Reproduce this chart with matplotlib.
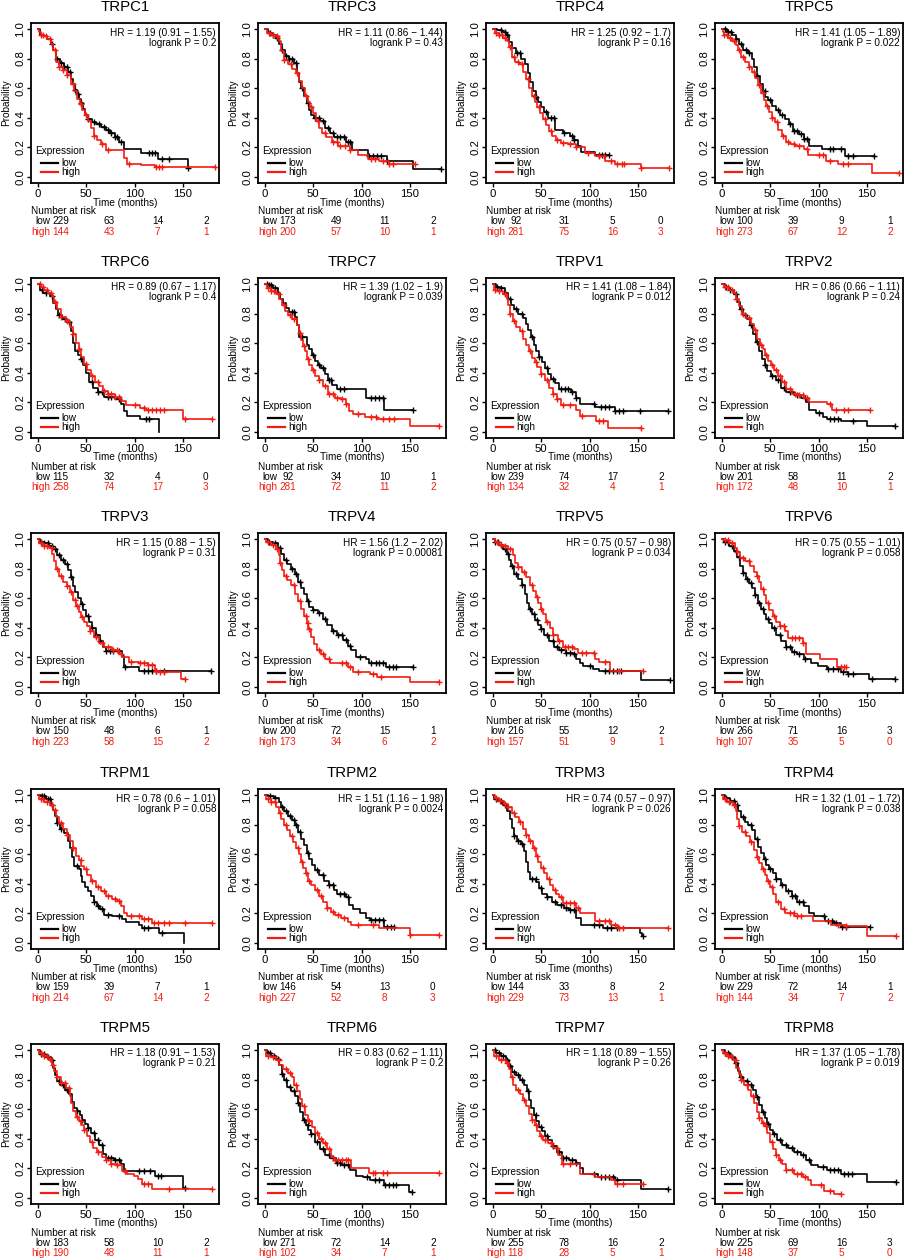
import numpy as np
import matplotlib
matplotlib.use('Agg')
import matplotlib.pyplot as plt

plt.rcParams['font.family'] = ['Liberation Sans', 'DejaVu Sans']

GENES = ['TRPC1', 'TRPC3', 'TRPC4', 'TRPC5',
         'TRPC6', 'TRPC7', 'TRPV1', 'TRPV2',
         'TRPV3', 'TRPV4', 'TRPV5', 'TRPV6',
         'TRPM1', 'TRPM2', 'TRPM3', 'TRPM4',
         'TRPM5', 'TRPM6', 'TRPM7', 'TRPM8']
HR = ['1.19 (0.91 \u2212 1.55)', '1.11 (0.86 \u2212 1.44)', '1.25 (0.92 \u2212 1.7)', '1.41 (1.05 \u2212 1.89)',
      '0.89 (0.67 \u2212 1.17)', '1.39 (1.02 \u2212 1.9)', '1.41 (1.08 \u2212 1.84)', '0.86 (0.66 \u2212 1.11)',
      '1.15 (0.88 \u2212 1.5)', '1.56 (1.2 \u2212 2.02)', '0.75 (0.57 \u2212 0.98)', '0.75 (0.55 \u2212 1.01)',
      '0.78 (0.6 \u2212 1.01)', '1.51 (1.16 \u2212 1.98)', '0.74 (0.57 \u2212 0.97)', '1.32 (1.01 \u2212 1.72)',
      '1.18 (0.91 \u2212 1.53)', '0.83 (0.62 \u2212 1.11)', '1.18 (0.89 \u2212 1.55)', '1.37 (1.05 \u2212 1.78)']
P = ['0.2', '0.43', '0.16', '0.022',
     '0.4', '0.039', '0.012', '0.24',
     '0.31', '0.00081', '0.034', '0.058',
     '0.058', '0.0024', '0.026', '0.038',
     '0.21', '0.2', '0.26', '0.019']
RISK_TIMES = [0, 50, 100, 150]
RISK_LOW = [[229, 63, 14, 2], [173, 49, 11, 2], [92, 31, 5, 0], [100, 39, 9, 1],
            [115, 32, 4, 0], [92, 34, 10, 1], [239, 74, 17, 2], [201, 58, 11, 2],
            [150, 48, 6, 1], [200, 72, 15, 1], [216, 55, 12, 2], [266, 71, 16, 3],
            [159, 39, 7, 1], [146, 54, 13, 0], [144, 33, 8, 2], [229, 72, 14, 1],
            [183, 58, 10, 2], [271, 72, 14, 2], [255, 78, 16, 2], [225, 69, 16, 3]]
RISK_HIGH = [[144, 43, 7, 1], [200, 57, 10, 1], [281, 75, 16, 3], [273, 67, 12, 2],
             [258, 74, 17, 3], [281, 72, 11, 2], [134, 32, 4, 1], [172, 48, 10, 1],
             [223, 58, 15, 2], [173, 34, 6, 2], [157, 51, 9, 1], [107, 35, 5, 0],
             [214, 67, 14, 2], [227, 52, 8, 3], [229, 73, 13, 1], [144, 34, 7, 2],
             [190, 48, 11, 1], [102, 34, 7, 1], [118, 28, 5, 1], [148, 37, 5, 0]]

# survival curves: step times (_t), survival after each step (_s), censor times (_c), last follow-up (_end)
trpc1_low_t = [0, 2, 5, 9, 13, 16, 19, 23, 27, 31, 34, 36, 38, 40, 42, 44, 47, 49, 52, 56, 60, 65, 70, 75, 80, 84, 89, 107, 124, 155]
trpc1_low_s = [1.0, 0.96, 0.95, 0.93, 0.90, 0.86, 0.80, 0.77, 0.74, 0.71, 0.66, 0.63, 0.59, 0.56, 0.53, 0.50, 0.46, 0.42, 0.39, 0.37, 0.36, 0.34, 0.32, 0.30, 0.27, 0.24, 0.19, 0.16, 0.12, 0.06]
trpc1_low_c = [14, 20, 24, 27, 30, 33, 38, 41, 45, 52, 58, 63, 68, 72, 76, 80, 82, 86, 115, 118, 121, 128, 136, 155]
trpc1_low_end = 156
trpc1_high_t = [0, 1, 3, 6, 9, 13, 16, 19, 22, 26, 30, 34, 37, 40, 43, 46, 49, 52, 55, 58, 61, 65, 70, 89, 92, 107, 121]
trpc1_high_s = [1.0, 0.98, 0.96, 0.95, 0.93, 0.90, 0.86, 0.78, 0.74, 0.72, 0.69, 0.63, 0.58, 0.53, 0.49, 0.45, 0.42, 0.38, 0.33, 0.28, 0.25, 0.22, 0.18, 0.13, 0.09, 0.08, 0.065]
trpc1_high_c = [3, 5, 8, 12, 18, 22, 26, 30, 36, 44, 50, 58, 66, 72, 94, 122, 125, 128, 183]
trpc1_high_end = 183

trpc3_low_t = [0, 3, 7, 11, 15, 18, 21, 25, 30, 33, 35, 37, 40, 43, 46, 48, 51, 57, 62, 67, 71, 84, 90, 107, 126, 153]
trpc3_low_s = [1.0, 0.97, 0.96, 0.94, 0.90, 0.86, 0.82, 0.80, 0.77, 0.70, 0.64, 0.60, 0.55, 0.50, 0.45, 0.42, 0.40, 0.38, 0.33, 0.30, 0.27, 0.24, 0.18, 0.14, 0.11, 0.055]
trpc3_low_c = [5, 8, 12, 18, 22, 25, 28, 32, 38, 44, 52, 56, 60, 65, 70, 74, 78, 82, 86, 88, 108, 112, 116, 120, 126, 182]
trpc3_low_end = 182
trpc3_high_t = [0, 2, 6, 10, 14, 17, 20, 24, 28, 32, 35, 38, 41, 44, 47, 50, 53, 56, 59, 63, 69, 76, 88, 96, 107, 118, 128]
trpc3_high_s = [1.0, 0.97, 0.96, 0.95, 0.92, 0.85, 0.79, 0.76, 0.73, 0.70, 0.65, 0.60, 0.55, 0.51, 0.47, 0.43, 0.38, 0.33, 0.30, 0.27, 0.24, 0.21, 0.18, 0.15, 0.12, 0.11, 0.09]
trpc3_high_c = [4, 8, 12, 20, 27, 33, 42, 48, 55, 62, 70, 74, 78, 83, 88, 110, 114, 122, 128, 132, 155]
trpc3_high_end = 155

trpc4_low_t = [0, 4, 9, 13, 17, 20, 24, 29, 33, 36, 38, 41, 44, 47, 50, 53, 57, 64, 72, 80, 84, 88, 91, 105]
trpc4_low_s = [1.0, 0.99, 0.98, 0.96, 0.91, 0.87, 0.84, 0.80, 0.76, 0.70, 0.64, 0.58, 0.54, 0.51, 0.47, 0.44, 0.40, 0.32, 0.30, 0.28, 0.25, 0.21, 0.17, 0.15]
trpc4_low_c = [8, 12, 14, 25, 28, 45, 55, 60, 63, 73, 82, 84, 110, 113, 116, 120]
trpc4_low_end = 120
trpc4_high_t = [0, 2, 6, 10, 14, 17, 20, 23, 27, 31, 34, 37, 40, 43, 46, 49, 52, 55, 58, 61, 65, 70, 78, 86, 95, 105, 116, 126, 153]
trpc4_high_s = [1.0, 0.97, 0.96, 0.94, 0.92, 0.88, 0.81, 0.78, 0.76, 0.71, 0.66, 0.60, 0.55, 0.51, 0.47, 0.43, 0.39, 0.35, 0.31, 0.28, 0.25, 0.23, 0.22, 0.20, 0.16, 0.14, 0.11, 0.09, 0.06]
trpc4_high_c = [3, 6, 9, 12, 18, 22, 26, 30, 36, 42, 48, 54, 60, 66, 72, 80, 86, 98, 110, 115, 122, 128, 133, 136, 153, 182]
trpc4_high_end = 182

trpc5_low_t = [0, 5, 10, 14, 18, 22, 27, 31, 33, 36, 39, 42, 45, 48, 52, 56, 60, 65, 69, 73, 80, 85, 90, 103, 127]
trpc5_low_s = [1.0, 0.98, 0.96, 0.93, 0.90, 0.86, 0.84, 0.80, 0.74, 0.68, 0.63, 0.58, 0.54, 0.52, 0.48, 0.45, 0.42, 0.39, 0.36, 0.31, 0.29, 0.26, 0.21, 0.19, 0.14]
trpc5_low_c = [3, 6, 9, 14, 20, 25, 28, 36, 44, 50, 58, 62, 70, 75, 78, 82, 85, 88, 112, 115, 123, 130, 136, 157]
trpc5_low_end = 157
trpc5_high_t = [0, 1, 2, 6, 10, 14, 17, 20, 24, 28, 31, 34, 37, 40, 43, 46, 49, 52, 55, 58, 62, 66, 70, 76, 85, 89, 108, 120, 155]
trpc5_high_s = [1.0, 0.98, 0.96, 0.94, 0.92, 0.89, 0.86, 0.81, 0.78, 0.74, 0.71, 0.67, 0.62, 0.57, 0.52, 0.48, 0.44, 0.40, 0.37, 0.32, 0.28, 0.24, 0.22, 0.21, 0.19, 0.15, 0.11, 0.09, 0.03]
trpc5_high_c = [2, 5, 8, 12, 18, 22, 28, 33, 38, 42, 47, 52, 57, 63, 68, 74, 80, 88, 100, 104, 112, 125, 130, 183]
trpc5_high_end = 183

trpc6_low_t = [0, 2, 5, 12, 16, 19, 21, 25, 30, 34, 36, 38, 41, 44, 47, 50, 53, 57, 62, 68, 80, 86, 89, 92, 106, 125]
trpc6_low_s = [1.0, 0.96, 0.94, 0.92, 0.87, 0.83, 0.79, 0.76, 0.74, 0.68, 0.60, 0.55, 0.52, 0.49, 0.45, 0.40, 0.34, 0.30, 0.27, 0.24, 0.22, 0.19, 0.14, 0.11, 0.085, 0.0]
trpc6_low_c = [4, 8, 15, 22, 28, 32, 45, 56, 62, 66, 72, 76, 84, 112, 115]
trpc6_low_end = 125.5
trpc6_high_t = [0, 3, 6, 10, 14, 17, 20, 24, 29, 33, 36, 39, 42, 45, 48, 51, 55, 59, 63, 67, 72, 80, 86, 91, 105, 112, 150]
trpc6_high_s = [1.0, 0.98, 0.96, 0.94, 0.91, 0.88, 0.83, 0.78, 0.75, 0.71, 0.66, 0.60, 0.56, 0.51, 0.46, 0.42, 0.38, 0.34, 0.31, 0.28, 0.26, 0.24, 0.21, 0.18, 0.16, 0.15, 0.085]
trpc6_high_c = [2, 5, 9, 13, 18, 24, 30, 36, 42, 50, 56, 62, 68, 72, 76, 80, 84, 100, 110, 114, 118, 122, 126, 130, 152, 180]
trpc6_high_end = 180

trpc7_low_t = [0, 3, 8, 13, 16, 19, 22, 25, 31, 33, 35, 43, 46, 49, 52, 55, 58, 62, 65, 69, 74, 104, 123]
trpc7_low_s = [1.0, 0.99, 0.97, 0.94, 0.90, 0.87, 0.84, 0.81, 0.78, 0.72, 0.64, 0.59, 0.56, 0.52, 0.48, 0.45, 0.43, 0.39, 0.35, 0.32, 0.29, 0.23, 0.15]
trpc7_low_c = [2, 4, 6, 10, 28, 30, 38, 50, 56, 60, 66, 68, 78, 82, 110, 114, 118, 122, 153]
trpc7_low_end = 153
trpc7_high_t = [0, 2, 6, 11, 15, 18, 21, 24, 28, 33, 35, 37, 39, 41, 43, 46, 49, 52, 56, 60, 65, 72, 79, 84, 87, 91, 103, 116, 150]
trpc7_high_s = [1.0, 0.97, 0.95, 0.93, 0.90, 0.86, 0.82, 0.79, 0.76, 0.72, 0.67, 0.62, 0.58, 0.55, 0.49, 0.45, 0.42, 0.38, 0.35, 0.31, 0.26, 0.23, 0.22, 0.19, 0.14, 0.12, 0.10, 0.085, 0.04]
trpc7_high_c = [3, 6, 9, 14, 20, 26, 30, 36, 40, 45, 50, 56, 62, 66, 70, 75, 80, 84, 96, 110, 115, 122, 128, 133, 180]
trpc7_high_end = 180

trpv1_low_t = [0, 3, 7, 12, 16, 19, 22, 26, 31, 34, 36, 39, 42, 45, 48, 51, 54, 57, 60, 64, 68, 81, 86, 90, 105, 126]
trpv1_low_s = [1.0, 0.98, 0.97, 0.94, 0.90, 0.86, 0.83, 0.80, 0.77, 0.73, 0.69, 0.64, 0.59, 0.55, 0.51, 0.47, 0.43, 0.39, 0.36, 0.33, 0.29, 0.27, 0.23, 0.19, 0.17, 0.14]
trpv1_low_c = [4, 8, 12, 18, 24, 30, 40, 48, 56, 62, 70, 74, 78, 82, 86, 104, 112, 116, 120, 126, 130, 134, 152, 181]
trpv1_low_end = 181
trpv1_high_t = [0, 1, 5, 10, 14, 16, 18, 21, 24, 28, 31, 34, 37, 40, 43, 46, 50, 54, 58, 62, 66, 70, 86, 90, 107, 119]
trpv1_high_s = [1.0, 0.96, 0.95, 0.93, 0.90, 0.86, 0.80, 0.75, 0.71, 0.68, 0.63, 0.59, 0.55, 0.50, 0.47, 0.44, 0.39, 0.35, 0.30, 0.26, 0.22, 0.18, 0.15, 0.11, 0.075, 0.03]
trpv1_high_c = [2, 6, 12, 18, 22, 30, 38, 44, 50, 56, 62, 66, 72, 80, 92, 110, 114, 153]
trpv1_high_end = 153

trpv2_low_t = [0, 3, 7, 12, 16, 19, 22, 26, 29, 32, 35, 38, 41, 44, 47, 51, 56, 61, 66, 75, 82, 87, 90, 97, 104, 109, 123, 150]
trpv2_low_s = [1.0, 0.98, 0.96, 0.93, 0.88, 0.83, 0.79, 0.76, 0.72, 0.66, 0.61, 0.55, 0.49, 0.45, 0.41, 0.38, 0.35, 0.30, 0.27, 0.25, 0.23, 0.20, 0.15, 0.13, 0.10, 0.085, 0.075, 0.04]
trpv2_low_c = [4, 8, 14, 20, 24, 30, 36, 44, 52, 58, 64, 70, 78, 86, 100, 112, 116, 120, 136, 179]
trpv2_low_end = 179
trpv2_high_t = [0, 2, 7, 12, 15, 18, 21, 25, 30, 33, 36, 39, 42, 45, 48, 51, 54, 58, 62, 66, 72, 80, 85, 90, 109, 114]
trpv2_high_s = [1.0, 0.98, 0.96, 0.94, 0.90, 0.85, 0.80, 0.77, 0.73, 0.69, 0.63, 0.59, 0.56, 0.52, 0.48, 0.45, 0.42, 0.38, 0.34, 0.29, 0.26, 0.25, 0.23, 0.20, 0.19, 0.15]
trpv2_high_c = [3, 6, 10, 15, 22, 28, 34, 40, 46, 52, 56, 60, 64, 70, 76, 80, 84, 88, 112, 118, 126, 130, 153]
trpv2_high_end = 153

trpv3_low_t = [0, 2, 6, 11, 16, 20, 24, 28, 31, 34, 36, 38, 41, 44, 47, 50, 53, 56, 60, 64, 67, 70, 87, 89, 104]
trpv3_low_s = [1.0, 0.98, 0.97, 0.95, 0.93, 0.89, 0.86, 0.83, 0.79, 0.74, 0.68, 0.64, 0.60, 0.56, 0.52, 0.48, 0.44, 0.40, 0.35, 0.31, 0.27, 0.245, 0.21, 0.135, 0.11]
trpv3_low_c = [3, 6, 10, 14, 18, 22, 26, 30, 34, 46, 52, 56, 60, 64, 70, 74, 78, 84, 90, 110, 114, 118, 122, 130, 179]
trpv3_low_end = 179
trpv3_high_t = [0, 1, 5, 11, 15, 17, 19, 22, 26, 30, 33, 36, 39, 42, 45, 48, 51, 54, 58, 63, 68, 77, 84, 87, 94, 104, 114, 121, 125, 148]
trpv3_high_s = [1.0, 0.97, 0.95, 0.94, 0.90, 0.85, 0.80, 0.75, 0.71, 0.68, 0.64, 0.59, 0.55, 0.51, 0.47, 0.44, 0.41, 0.38, 0.34, 0.30, 0.27, 0.25, 0.225, 0.20, 0.17, 0.16, 0.15, 0.11, 0.10, 0.055]
trpv3_high_c = [3, 6, 9, 14, 20, 24, 30, 34, 38, 40, 46, 54, 60, 66, 72, 78, 82, 86, 96, 106, 110, 114, 118, 122, 126, 130, 152]
trpv3_high_end = 152

trpv4_low_t = [0, 3, 8, 13, 17, 20, 23, 27, 31, 34, 37, 40, 43, 46, 50, 55, 60, 64, 69, 74, 81, 86, 89, 94, 104, 108, 125]
trpv4_low_s = [1.0, 0.98, 0.97, 0.94, 0.90, 0.86, 0.83, 0.80, 0.76, 0.71, 0.67, 0.63, 0.58, 0.54, 0.52, 0.50, 0.46, 0.42, 0.38, 0.35, 0.32, 0.28, 0.25, 0.20, 0.19, 0.16, 0.135]
trpv4_low_c = [4, 10, 16, 22, 28, 32, 36, 44, 50, 56, 62, 70, 76, 80, 84, 88, 98, 110, 115, 118, 122, 128, 132, 136, 153]
trpv4_low_end = 153
trpv4_high_t = [0, 1, 6, 11, 14, 16, 18, 20, 23, 27, 31, 34, 37, 40, 43, 45, 48, 51, 54, 58, 62, 67, 86, 91, 109, 116, 150]
trpv4_high_s = [1.0, 0.98, 0.96, 0.93, 0.89, 0.84, 0.79, 0.75, 0.72, 0.69, 0.63, 0.58, 0.53, 0.48, 0.43, 0.39, 0.34, 0.29, 0.25, 0.22, 0.19, 0.16, 0.135, 0.10, 0.09, 0.07, 0.035]
trpv4_high_c = [3, 8, 12, 16, 22, 30, 36, 42, 44, 46, 56, 60, 66, 80, 84, 88, 96, 112, 120, 180]
trpv4_high_end = 180

trpv5_low_t = [0, 2, 6, 10, 14, 17, 19, 22, 26, 30, 33, 35, 37, 40, 43, 47, 50, 53, 58, 63, 68, 76, 83, 86, 90, 93, 103, 110, 153]
trpv5_low_s = [1.0, 0.98, 0.96, 0.93, 0.90, 0.86, 0.82, 0.76, 0.73, 0.69, 0.63, 0.57, 0.53, 0.49, 0.45, 0.42, 0.39, 0.35, 0.31, 0.27, 0.25, 0.23, 0.22, 0.19, 0.16, 0.14, 0.125, 0.11, 0.045]
trpv5_low_c = [2, 5, 8, 12, 16, 20, 24, 30, 38, 42, 46, 50, 56, 62, 66, 70, 76, 80, 84, 100, 116, 120, 124, 128, 132, 183]
trpv5_low_end = 183
trpv5_high_t = [0, 2, 6, 11, 16, 21, 23, 26, 30, 34, 38, 41, 45, 47, 50, 52, 55, 59, 62, 67, 72, 84, 88, 105, 110, 121]
trpv5_high_s = [1.0, 0.98, 0.96, 0.95, 0.93, 0.89, 0.84, 0.81, 0.78, 0.74, 0.69, 0.65, 0.61, 0.57, 0.53, 0.49, 0.44, 0.40, 0.35, 0.31, 0.27, 0.26, 0.23, 0.19, 0.17, 0.11]
trpv5_high_c = [4, 8, 12, 18, 26, 32, 40, 46, 50, 56, 62, 68, 74, 78, 82, 92, 96, 104, 116, 130, 155]
trpv5_high_end = 155

trpv6_low_t = [0, 2, 7, 12, 16, 19, 22, 25, 28, 31, 34, 37, 40, 43, 46, 49, 52, 56, 61, 66, 72, 78, 85, 92, 99, 109, 123, 130, 152]
trpv6_low_s = [1.0, 0.98, 0.95, 0.92, 0.88, 0.82, 0.77, 0.73, 0.70, 0.67, 0.62, 0.57, 0.53, 0.49, 0.46, 0.43, 0.40, 0.35, 0.31, 0.27, 0.24, 0.22, 0.19, 0.16, 0.14, 0.125, 0.10, 0.09, 0.057]
trpv6_low_c = [3, 6, 10, 14, 18, 22, 26, 30, 34, 38, 42, 48, 54, 60, 66, 70, 74, 80, 86, 110, 115, 120, 125, 130, 135, 155, 179]
trpv6_low_end = 179
trpv6_high_t = [0, 2, 7, 13, 16, 19, 24, 29, 33, 36, 38, 40, 43, 46, 49, 53, 56, 60, 65, 68, 84, 87, 101, 119]
trpv6_high_s = [1.0, 0.99, 0.97, 0.94, 0.91, 0.87, 0.85, 0.82, 0.78, 0.75, 0.71, 0.66, 0.62, 0.57, 0.52, 0.48, 0.44, 0.41, 0.38, 0.33, 0.30, 0.22, 0.19, 0.135]
trpv6_high_c = [3, 6, 10, 16, 22, 28, 36, 42, 48, 54, 60, 64, 72, 76, 80, 84, 123, 126, 128]
trpv6_high_end = 128

trpm1_low_t = [0, 3, 8, 13, 16, 18, 20, 23, 27, 31, 33, 35, 37, 42, 44, 46, 49, 52, 55, 58, 61, 64, 68, 77, 87, 91, 104, 108, 125, 151]
trpm1_low_s = [1.0, 0.99, 0.97, 0.93, 0.90, 0.86, 0.81, 0.77, 0.74, 0.69, 0.64, 0.58, 0.52, 0.50, 0.45, 0.41, 0.38, 0.35, 0.32, 0.28, 0.25, 0.23, 0.19, 0.18, 0.16, 0.14, 0.125, 0.10, 0.07, 0.0]
trpm1_low_c = [4, 6, 10, 12, 14, 20, 24, 40, 58, 62, 66, 72, 84, 110, 114, 128]
trpm1_low_end = 151.5
trpm1_high_t = [0, 1, 6, 12, 16, 19, 22, 26, 30, 33, 36, 39, 42, 45, 48, 51, 55, 60, 65, 70, 77, 82, 86, 89, 92, 108, 118]
trpm1_high_s = [1.0, 0.97, 0.95, 0.93, 0.90, 0.85, 0.81, 0.77, 0.73, 0.69, 0.64, 0.59, 0.56, 0.52, 0.50, 0.46, 0.42, 0.38, 0.35, 0.32, 0.30, 0.285, 0.25, 0.20, 0.18, 0.16, 0.135]
trpm1_high_c = [3, 5, 9, 14, 18, 24, 30, 36, 44, 50, 56, 62, 68, 72, 80, 84, 96, 104, 110, 114, 120, 124, 130, 136, 152, 180]
trpm1_high_end = 180

trpm2_low_t = [0, 3, 9, 14, 17, 20, 24, 28, 31, 34, 37, 40, 43, 46, 49, 52, 56, 61, 66, 71, 75, 84, 87, 91, 98, 104, 109, 123]
trpm2_low_s = [1.0, 0.99, 0.98, 0.95, 0.92, 0.89, 0.86, 0.83, 0.80, 0.75, 0.70, 0.66, 0.61, 0.57, 0.53, 0.49, 0.46, 0.42, 0.39, 0.36, 0.33, 0.31, 0.26, 0.23, 0.20, 0.17, 0.155, 0.11]
trpm2_low_c = [5, 10, 18, 22, 26, 30, 32, 36, 44, 54, 60, 66, 70, 78, 82, 86, 110, 114, 118, 122, 126, 130, 133]
trpm2_low_end = 133
trpm2_high_t = [0, 1, 6, 11, 14, 17, 20, 23, 26, 29, 32, 35, 37, 39, 42, 45, 48, 52, 56, 60, 64, 68, 72, 79, 86, 89, 118, 150]
trpm2_high_s = [1.0, 0.97, 0.95, 0.92, 0.88, 0.84, 0.80, 0.76, 0.72, 0.68, 0.64, 0.60, 0.55, 0.51, 0.47, 0.42, 0.39, 0.36, 0.32, 0.28, 0.24, 0.21, 0.19, 0.17, 0.14, 0.12, 0.10, 0.057]
trpm2_high_c = [3, 6, 10, 16, 22, 28, 34, 38, 42, 46, 54, 58, 64, 70, 76, 82, 96, 112, 150, 180]
trpm2_high_end = 180

trpm3_low_t = [0, 1, 5, 10, 15, 18, 20, 22, 25, 29, 32, 34, 36, 38, 45, 48, 51, 56, 61, 66, 73, 79, 86, 91, 114, 152, 154]
trpm3_low_s = [1.0, 0.97, 0.96, 0.93, 0.89, 0.84, 0.78, 0.72, 0.69, 0.67, 0.62, 0.55, 0.48, 0.43, 0.41, 0.37, 0.33, 0.31, 0.28, 0.26, 0.24, 0.22, 0.17, 0.12, 0.10, 0.07, 0.05]
trpm3_low_c = [3, 8, 12, 22, 26, 30, 40, 44, 50, 56, 64, 70, 76, 80, 84, 104, 110, 118, 122, 128, 155]
trpm3_low_end = 155
trpm3_high_t = [0, 2, 6, 11, 16, 20, 23, 27, 31, 34, 37, 41, 44, 47, 50, 53, 56, 59, 62, 65, 68, 72, 86, 90, 105, 122, 129]
trpm3_high_s = [1.0, 0.98, 0.96, 0.94, 0.92, 0.88, 0.85, 0.82, 0.77, 0.73, 0.69, 0.64, 0.59, 0.55, 0.51, 0.47, 0.43, 0.39, 0.36, 0.33, 0.31, 0.27, 0.24, 0.20, 0.15, 0.125, 0.10]
trpm3_high_c = [3, 7, 12, 16, 22, 28, 34, 38, 42, 46, 52, 58, 64, 70, 76, 80, 84, 88, 110, 116, 120, 126, 130, 134, 181]
trpm3_high_end = 181

trpm4_low_t = [0, 3, 8, 13, 17, 20, 24, 27, 31, 34, 37, 40, 43, 46, 49, 53, 56, 61, 66, 72, 78, 85, 90, 95, 107, 116, 123]
trpm4_low_s = [1.0, 0.98, 0.96, 0.93, 0.89, 0.85, 0.82, 0.80, 0.76, 0.70, 0.65, 0.61, 0.57, 0.53, 0.50, 0.47, 0.43, 0.39, 0.35, 0.32, 0.28, 0.25, 0.20, 0.18, 0.15, 0.135, 0.11]
trpm4_low_c = [4, 8, 12, 16, 22, 30, 36, 44, 50, 56, 62, 68, 72, 76, 80, 84, 106, 110, 114, 118, 124, 128, 153]
trpm4_low_end = 153
trpm4_high_t = [0, 1, 5, 11, 14, 16, 18, 21, 25, 29, 33, 36, 38, 41, 44, 47, 50, 53, 56, 61, 65, 75, 94, 113, 128, 150]
trpm4_high_s = [1.0, 0.97, 0.95, 0.93, 0.89, 0.84, 0.79, 0.75, 0.72, 0.68, 0.63, 0.58, 0.54, 0.50, 0.46, 0.42, 0.38, 0.33, 0.28, 0.23, 0.20, 0.18, 0.15, 0.125, 0.115, 0.045]
trpm4_high_c = [3, 7, 12, 18, 24, 30, 36, 42, 48, 52, 58, 64, 70, 74, 78, 82, 120, 128, 180]
trpm4_high_end = 180

trpm5_low_t = [0, 2, 7, 13, 16, 18, 20, 23, 28, 32, 35, 37, 40, 43, 46, 49, 52, 55, 59, 63, 67, 70, 79, 86, 89, 121, 150]
trpm5_low_s = [1.0, 0.97, 0.95, 0.93, 0.88, 0.83, 0.79, 0.76, 0.73, 0.70, 0.65, 0.61, 0.59, 0.56, 0.53, 0.50, 0.47, 0.44, 0.39, 0.36, 0.30, 0.27, 0.255, 0.23, 0.18, 0.15, 0.07]
trpm5_low_c = [3, 6, 10, 14, 22, 26, 30, 40, 46, 52, 58, 62, 66, 72, 76, 80, 84, 90, 104, 110, 116, 124, 127, 152]
trpm5_low_end = 152
trpm5_high_t = [0, 1, 5, 10, 14, 17, 20, 24, 29, 33, 34, 36, 39, 42, 45, 48, 51, 54, 57, 61, 66, 70, 76, 82, 87, 92, 99, 103, 108, 118]
trpm5_high_s = [1.0, 0.98, 0.96, 0.94, 0.90, 0.86, 0.82, 0.78, 0.74, 0.69, 0.64, 0.59, 0.55, 0.52, 0.49, 0.46, 0.42, 0.38, 0.34, 0.31, 0.28, 0.255, 0.23, 0.22, 0.185, 0.165, 0.15, 0.13, 0.095, 0.06]
trpm5_high_c = [3, 6, 9, 12, 16, 20, 24, 28, 32, 40, 44, 48, 56, 62, 70, 76, 82, 90, 110, 114, 136, 180]
trpm5_high_end = 180

trpm6_low_t = [0, 2, 6, 11, 15, 18, 20, 23, 27, 31, 34, 36, 39, 42, 45, 48, 52, 57, 62, 67, 73, 80, 88, 94, 101, 109, 123, 149]
trpm6_low_s = [1.0, 0.98, 0.96, 0.94, 0.90, 0.84, 0.80, 0.75, 0.72, 0.69, 0.64, 0.58, 0.53, 0.49, 0.46, 0.43, 0.38, 0.33, 0.29, 0.27, 0.24, 0.22, 0.19, 0.15, 0.14, 0.12, 0.085, 0.04]
trpm6_low_c = [3, 5, 9, 13, 18, 22, 26, 30, 34, 40, 44, 48, 54, 60, 66, 70, 74, 78, 82, 86, 106, 114, 118, 124, 128, 132, 136, 152]
trpm6_low_end = 152
trpm6_high_t = [0, 1, 6, 11, 15, 19, 24, 28, 30, 33, 36, 38, 41, 45, 49, 52, 56, 60, 64, 68, 71, 89, 108]
trpm6_high_s = [1.0, 0.96, 0.95, 0.93, 0.90, 0.87, 0.845, 0.82, 0.76, 0.72, 0.67, 0.62, 0.56, 0.52, 0.48, 0.44, 0.40, 0.37, 0.33, 0.28, 0.255, 0.20, 0.17]
trpm6_high_c = [3, 8, 14, 22, 26, 32, 40, 46, 54, 58, 62, 66, 72, 76, 80, 84, 86, 112, 114, 122, 126, 180]
trpm6_high_end = 180

trpm7_low_t = [0, 3, 8, 13, 17, 20, 24, 28, 32, 35, 37, 39, 42, 45, 48, 51, 54, 57, 61, 66, 71, 79, 86, 90, 93, 109, 126, 153]
trpm7_low_s = [1.0, 0.98, 0.96, 0.93, 0.89, 0.85, 0.83, 0.80, 0.76, 0.72, 0.66, 0.61, 0.56, 0.52, 0.48, 0.45, 0.42, 0.39, 0.35, 0.31, 0.27, 0.26, 0.235, 0.20, 0.165, 0.14, 0.12, 0.062]
trpm7_low_c = [2, 6, 10, 14, 18, 22, 26, 30, 36, 44, 50, 56, 62, 68, 72, 76, 82, 86, 104, 112, 116, 120, 124, 128, 181]
trpm7_low_end = 181
trpm7_high_t = [0, 1, 6, 13, 17, 19, 21, 24, 28, 31, 34, 37, 40, 43, 46, 49, 52, 57, 62, 67, 71, 90, 105, 122, 126]
trpm7_high_s = [1.0, 0.96, 0.93, 0.91, 0.87, 0.82, 0.76, 0.73, 0.70, 0.66, 0.62, 0.57, 0.53, 0.49, 0.45, 0.42, 0.39, 0.37, 0.34, 0.29, 0.23, 0.165, 0.14, 0.12, 0.095]
trpm7_high_c = [3, 8, 14, 20, 26, 32, 40, 44, 50, 54, 60, 66, 72, 80, 128, 134, 155]
trpm7_high_end = 155

trpm8_low_t = [0, 3, 8, 13, 17, 19, 22, 27, 32, 35, 38, 41, 44, 47, 50, 53, 57, 62, 68, 75, 82, 87, 92, 99, 109, 123, 150]
trpm8_low_s = [1.0, 0.98, 0.95, 0.91, 0.86, 0.82, 0.79, 0.76, 0.73, 0.68, 0.63, 0.58, 0.54, 0.50, 0.46, 0.43, 0.39, 0.36, 0.34, 0.31, 0.29, 0.26, 0.22, 0.21, 0.19, 0.165, 0.108]
trpm8_low_c = [3, 6, 10, 14, 20, 26, 30, 36, 42, 48, 54, 60, 66, 72, 78, 84, 90, 104, 112, 116, 120, 126, 130, 134, 180]
trpm8_low_end = 180
trpm8_high_t = [0, 1, 5, 11, 15, 18, 20, 23, 27, 30, 33, 36, 38, 41, 44, 47, 50, 53, 56, 59, 62, 66, 75, 84, 89, 92, 106, 116]
trpm8_high_s = [1.0, 0.98, 0.96, 0.93, 0.88, 0.84, 0.80, 0.76, 0.73, 0.69, 0.64, 0.58, 0.54, 0.51, 0.485, 0.44, 0.38, 0.33, 0.29, 0.26, 0.23, 0.19, 0.165, 0.14, 0.12, 0.085, 0.05, 0.025]
trpm8_high_c = [3, 6, 9, 14, 20, 26, 32, 38, 42, 46, 52, 56, 60, 66, 72, 78, 82, 86, 102, 112, 123]
trpm8_high_end = 123

RED = '#f21d12'
W, H = 906, 1259
BOX_L = [31, 258, 486, 715]
BOX_T = [23, 278, 533, 789, 1044]
BW, BH = 188, 160
SMALL = 7.2


def draw_km(ax, t, s, cens, end, color):
    tt = list(t) + [end]
    ss = list(s) + [s[-1]]
    ax.step(tt, ss, where='post', color=color, lw=1.2)
    idx = np.searchsorted(t, cens, side='right') - 1
    ax.plot(cens, np.array(s)[idx], ls='none', marker='+', color=color, ms=4.5, mew=1.0)


fig = plt.figure(figsize=(W / 100, H / 100), dpi=100)

for i, g in enumerate(GENES):
    r, c = divmod(i, 4)
    left, top = BOX_L[c], BOX_T[r]
    ax = fig.add_axes([left / W, 1 - (top + BH) / H, BW / W, BH / H])
    for grp, col in [('low', 'black'), ('high', RED)]:
        key = g.lower() + '_' + grp
        draw_km(ax, globals()[key + '_t'], globals()[key + '_s'],
                globals()[key + '_c'], globals()[key + '_end'], col)

    ax.set_xlim(-7.2, 187.2)
    ax.set_ylim(-0.04, 1.04)
    ax.set_xticks([0, 50, 100, 150])
    ax.set_yticks([0, 0.2, 0.4, 0.6, 0.8, 1.0])
    ax.set_yticklabels(['0.0', '0.2', '0.4', '0.6', '0.8', '1.0'], rotation=90, va='center')
    ax.tick_params(direction='out', length=3, width=1.0, pad=1.2, labelsize=8.2)
    for sp in ax.spines.values():
        sp.set_linewidth(1.3)

    ax.text(0.5, 1 + 16 / BH, g, transform=ax.transAxes, ha='center', va='center', fontsize=10.8)
    ax.text(-25 / BW, 0.5, 'Probability', transform=ax.transAxes, rotation=90,
            ha='center', va='center', fontsize=SMALL)
    ax.text(0.5, -19.5 / BH, 'Time (months)', transform=ax.transAxes,
            ha='center', va='center', fontsize=SMALL)
    ax.text(1 - 3 / BW, 1 - 9.5 / BH, 'HR = ' + HR[i], transform=ax.transAxes,
            ha='right', va='center', fontsize=SMALL)
    ax.text(1 - 3 / BW, 1 - 19.5 / BH, 'logrank P = ' + P[i], transform=ax.transAxes,
            ha='right', va='center', fontsize=SMALL)

    # legend
    ax.text(4 / BW, 32 / BH, 'Expression', transform=ax.transAxes, ha='left', va='center', fontsize=SMALL)
    for yy, lab, col in [(20, 'low', 'black'), (11, 'high', RED)]:
        ax.plot([10 / BW, 27 / BW], [yy / BH, yy / BH], transform=ax.transAxes, color=col, lw=1.6)
        ax.text(30 / BW, yy / BH, lab, transform=ax.transAxes, ha='left', va='center', fontsize=SMALL)

    # number at risk
    tr = ax.get_xaxis_transform()
    ax.text(0, -28.5 / BH, 'Number at risk', transform=ax.transAxes, ha='left', va='center', fontsize=SMALL)
    for yy, lab, nums, col in [(-38.5, 'low', RISK_LOW[i], 'black'), (-49, 'high', RISK_HIGH[i], RED)]:
        ax.text(13, yy / BH, lab, transform=tr, ha='right', va='center', fontsize=SMALL, color=col, clip_on=False)
        for tm, n in zip(RISK_TIMES, nums):
            ax.text(tm + 23.5, yy / BH, str(n), transform=tr, ha='center', va='center',
                    fontsize=SMALL, color=col, clip_on=False)

fig.savefig('out.png', dpi=100)
